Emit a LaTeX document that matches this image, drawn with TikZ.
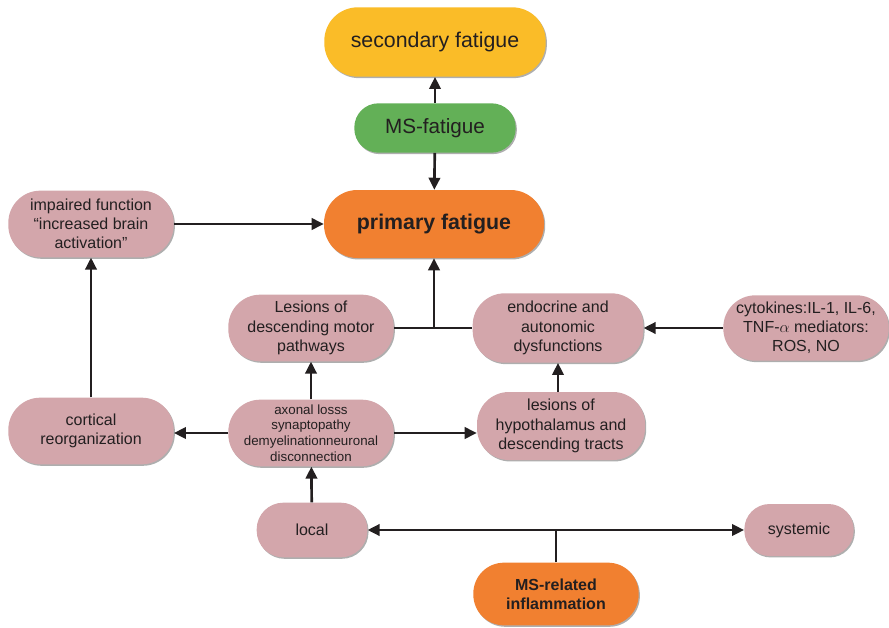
\documentclass[tikz,border=0pt]{standalone}
\usepackage{fontspec}
\setmainfont{Liberation Sans}
\usepackage{xcolor}
\usepackage{amsmath}
\usetikzlibrary{arrows.meta,shadows}

\definecolor{boxpink}{RGB}{211,166,171}
\definecolor{boxorange}{RGB}{241,128,48}
\definecolor{boxyellow}{RGB}{250,188,40}
\definecolor{boxgreen}{RGB}{99,176,87}
\definecolor{textdark}{RGB}{35,31,32}

\begin{document}
\begin{tikzpicture}[x=0.75pt,y=0.75pt,yscale=-1,xscale=1,
  fatiguebox/.style={rounded corners=24pt, align=center, inner sep=0pt, text=textdark,
    minimum width=124pt, minimum height=50pt, font=\fontsize{12}{14.4}\selectfont,
    drop shadow={shadow xshift=0.9pt, shadow yshift=-1.1pt, opacity=0.45, fill=black!70}},
  pinkbox/.style={fatiguebox, fill=boxpink},
  link/.style={line width=2pt, draw=textdark},
  arr/.style={link, -{Triangle[length=9pt,width=8.5pt]}}]
%set diagram size 889 x 628
\path[use as bounding box] (0,0) rectangle (889,628);

% Top row
\node[fatiguebox, fill=boxyellow, minimum width=166pt, minimum height=52pt, rounded corners=25pt, font=\fontsize{16}{19}\selectfont] (secondary) at (435,42) {secondary fatigue};
\node[fatiguebox, fill=boxgreen, minimum width=121pt, minimum height=37pt, rounded corners=18pt, font=\fontsize{15.5}{18}\selectfont] (msfatigue) at (435,128) {MS-fatigue};
\node[fatiguebox, fill=boxorange, minimum width=165pt, minimum height=51pt, rounded corners=25pt, font=\fontsize{16}{19}\selectfont\bfseries] (primary) at (434,224) {primary fatigue};
\node[pinkbox] (impaired) at (91,224) {impaired function\\“increased brain\\activation”};

% Middle rows
\node[pinkbox] (lesmotor) at (311,328) {Lesions of\\descending motor\\pathways};
\node[pinkbox, minimum width=128pt, minimum height=52pt] (endocrine) at (558,328) {endocrine and\\autonomic\\dysfunctions};
\node[pinkbox, minimum height=49pt] (cytokines) at (806,328) {cytokines:IL-1, IL-6,\\TNF-$\alpha$ mediators:\\ROS, NO};
\node[pinkbox] (cortical) at (91,431) {cortical\\reorganization};
\node[pinkbox, font=\fontsize{10}{11.8}\selectfont] (axonal) at (311,433) {axonal losss\\synaptopathy\\demyelinationneuronal\\disconnection};
\node[pinkbox, minimum width=126pt, minimum height=51pt] (hypoth) at (561,426) {lesions of\\hypothalamus and\\descending tracts};

% Bottom rows
\node[pinkbox, minimum width=83pt, minimum height=41pt, rounded corners=20pt] (local) at (312,530) {local};
\node[pinkbox, minimum width=82pt, minimum height=39pt, rounded corners=19pt] (systemic) at (799,530) {systemic};
\node[fatiguebox, fill=boxorange, minimum height=47pt, rounded corners=23pt, font=\fontsize{12}{14.4}\selectfont\bfseries] (msinfl) at (556,594) {MS-related\\inflammation};

% Connectors
\draw[arr] (msfatigue) -- (secondary);
\draw[arr] (msfatigue) -- (primary);
\draw[arr] (impaired) -- (primary);
\draw[link] (lesmotor.east) -- (endocrine.west);
\draw[arr] (primary.south |- lesmotor.east) -- (primary.south);
\draw[arr] (cytokines) -- (endocrine);
\draw[arr] (endocrine.south |- hypoth.north) -- (endocrine.south);
\draw[arr] (axonal) -- (lesmotor);
\draw[arr] (axonal.west) -- (cortical.east |- axonal.west);
\draw[arr] (axonal.east) -- (axonal.east -| hypoth.west);
\draw[arr] (cortical) -- (impaired);
\draw[arr] (local) -- (axonal);
\draw[arr, {Triangle[length=9pt,width=8.5pt]}-{Triangle[length=9pt,width=8.5pt]}] (local.east) -- (systemic.west);
\draw[link] (msinfl.north) -- (msinfl.north |- local.east);

\end{tikzpicture}
\end{document}
